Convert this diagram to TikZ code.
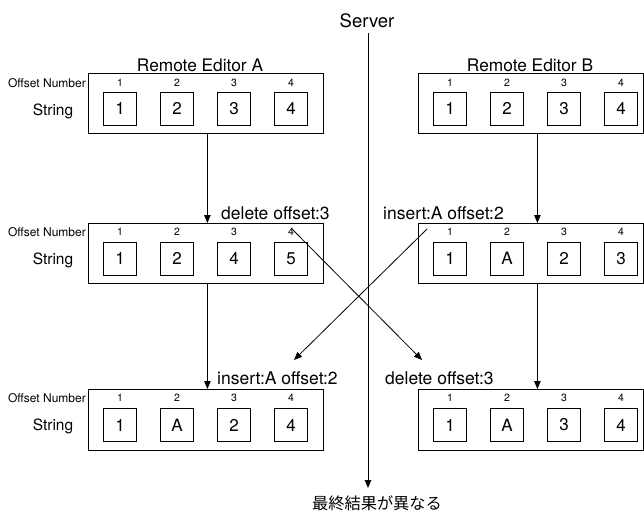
\documentclass[tikz,border=0pt]{standalone}
\usepackage{fontspec}
\setmainfont{TeX Gyre Heros}
\newfontfamily\jpfont{Noto Sans CJK JP}
\usetikzlibrary{arrows.meta}
\begin{document}
\begin{tikzpicture}[x=1pt,y=-1pt,
  cont/.style={draw, line width=0.8pt, inner sep=0pt, anchor=north west},
  cell/.style={draw, line width=0.8pt, minimum width=33pt, minimum height=33pt, inner sep=0pt, font=\fontsize{17}{17}\selectfont},
  idx/.style={inner sep=0pt, font=\fontsize{10.5}{10.5}\selectfont},
  rowlbl/.style={inner sep=0pt, font=\fontsize{15.5}{15.5}\selectfont},
  smlbl/.style={inner sep=0pt, anchor=east, font=\fontsize{12}{12}\selectfont},
  ttl/.style={inner sep=0pt, font=\fontsize{17.3}{17.3}\selectfont},
  oplbl/.style={inner sep=0pt, anchor=west, font=\fontsize{17.5}{17.5}\selectfont},
  conn/.style={line width=0.8pt, -{Triangle[length=8pt,width=6.5pt]}},
]
\useasboundingbox (0,0) rectangle (644,511);

% server
\node[inner sep=0pt, font=\fontsize{18.5}{18.5}\selectfont] (srv) at (367,21) {Server};
\node[inner sep=0pt, font=\jpfont\fontsize{16.2}{16.2}\selectfont] (jp) at (377,503) {最終結果が異なる};
\draw[conn] (368,33) -- (368,488);

% titles
\node[ttl] (tA) at (200,65) {Remote Editor A};
\node[ttl] (tB) at (530,65) {Remote Editor B};

% containers
\node[cont, minimum width=235pt, minimum height=60pt] (A1) at (88,73) {};
\node[cont, minimum width=225pt, minimum height=60pt] (B1) at (418,73) {};
\node[cont, minimum width=235pt, minimum height=60pt] (A2) at (88,223) {};
\node[cont, minimum width=225pt, minimum height=60pt] (B2) at (418,223) {};
\node[cont, minimum width=235pt, minimum height=61pt] (A3) at (88,389) {};
\node[cont, minimum width=225pt, minimum height=61pt] (B3) at (418,389) {};

% row labels
\node[smlbl] (onA1) at (86,83) {Offset Number};
\node[rowlbl] (sA1) at (53,111) {String};
\node[smlbl] (onA2) at (86,232) {Offset Number};
\node[rowlbl] (sA2) at (53,260) {String};
\node[smlbl] (onA3) at (86,398) {Offset Number};
\node[rowlbl] (sA3) at (53,426) {String};

% cells
\foreach \c [count=\i] in {1,2,3,4} {
  \node[idx] (A1n\i) at ({120+57*(\i-1)},83) {\i};
  \node[cell] (A1c\i) at ({120+57*(\i-1)},108.5) {\c};
  \node[idx] (B1n\i) at ({450+57*(\i-1)},83) {\i};
  \node[cell] (B1c\i) at ({450+57*(\i-1)},108.5) {\c};
}
\foreach \c [count=\i] in {1,2,4,5} {
  \node[idx] (A2n\i) at ({120+57*(\i-1)},232) {\i};
  \node[cell] (A2c\i) at ({120+57*(\i-1)},258.5) {\c};
}
\foreach \c [count=\i] in {1,A,2,3} {
  \node[idx] (B2n\i) at ({450+57*(\i-1)},232) {\i};
  \node[cell] (B2c\i) at ({450+57*(\i-1)},258.5) {\c};
}
\foreach \c [count=\i] in {1,A,2,4} {
  \node[idx] (A3n\i) at ({120+57*(\i-1)},398) {\i};
  \node[cell] (A3c\i) at ({120+57*(\i-1)},425) {\c};
}
\foreach \c [count=\i] in {1,A,3,4} {
  \node[idx] (B3n\i) at ({450+57*(\i-1)},398) {\i};
  \node[cell] (B3c\i) at ({450+57*(\i-1)},425) {\c};
}

% operation labels
\node[oplbl] (opA2) at (221,213) {delete offset:3};
\node[oplbl] (opB2) at (383,213) {insert:A offset:2};
\node[oplbl] (opA3) at (217,378) {insert:A offset:2};
\node[oplbl] (opB3) at (385,378) {delete offset:3};

% vertical connectors
\draw[conn] ([xshift=1.5pt]A1.south) -- ([xshift=1.5pt]A2.north);
\draw[conn] ([xshift=6.5pt]B1.south) -- ([xshift=6.5pt]B2.north);
\draw[conn] ([xshift=1.5pt]A2.south) -- ([xshift=1.5pt]A3.north);
\draw[conn] ([xshift=6.5pt]B2.south) -- ([xshift=6.5pt]B3.north);

% crossing connectors
\coordinate (dEnd) at (422,360);
\coordinate (iEnd) at (294,360);
\coordinate (dStart) at (292,229);
\coordinate (iStart) at (427,229);
\draw[conn] (dStart) -- (dEnd);
\draw[conn] (iStart) -- (iEnd);
\end{tikzpicture}
\end{document}
